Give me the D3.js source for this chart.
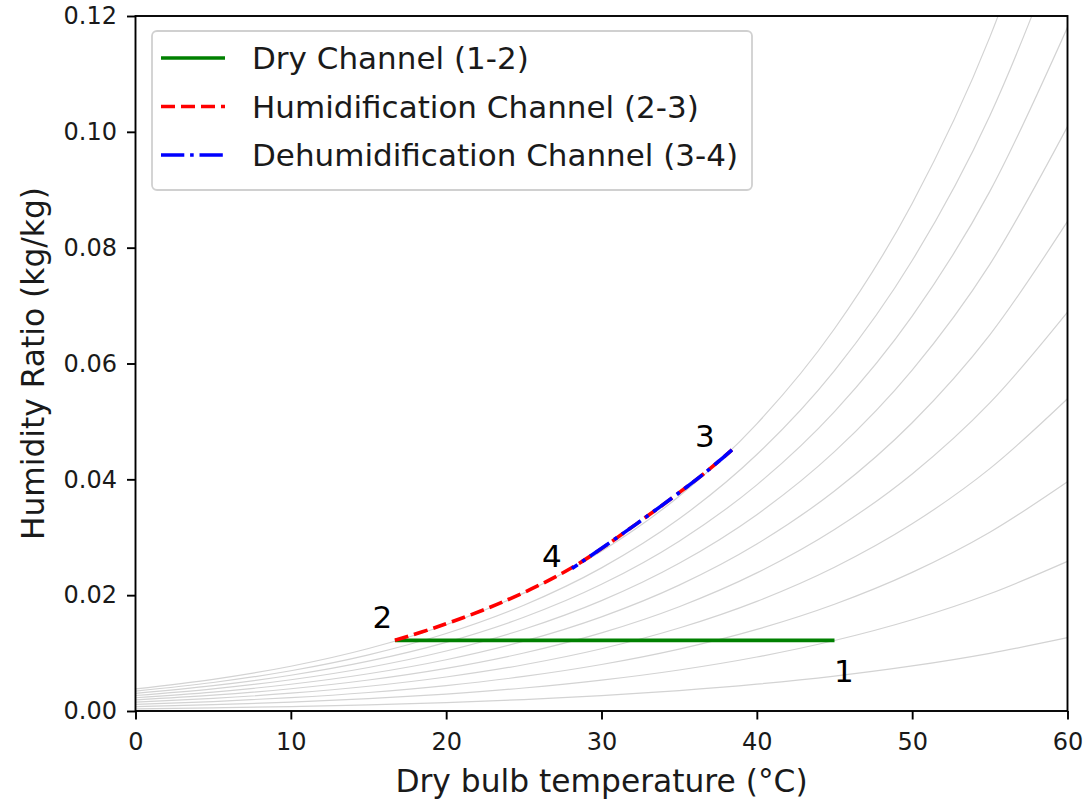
<!DOCTYPE html>
<html>
<head>
<meta charset="utf-8">
<script src="https://d3js.org/d3.v7.min.js"></script>
<style>
  body { margin: 0; background: #fff; }
  svg { display: block; font-family: "DejaVu Sans", sans-serif; }
</style>
</head>
<body>
<div id="chart"></div>
<script>
// saturation vapour pressure table (kPa), used for the grey RH curves
const tableTemps = [0, 5, 10, 15, 20, 25, 30, 35, 40, 45, 50, 55, 60];
const satPressure = [0.6113, 0.8721, 1.2276, 1.7051, 2.339, 3.169, 4.246, 5.628, 7.384, 9.593, 12.349, 15.758, 19.940];
const rhLevels = [0.1, 0.2, 0.3, 0.4, 0.5, 0.6, 0.7, 0.8, 0.9, 1.0];
const airPressure = 100; // kPa

// process channels
const dryTemps = [45.0, 16.7];
const dryRatios = [0.0122, 0.0122];
const humTemps = [16.7, 19.4, 23.7, 28.0, 32.3, 36.6, 38.4];
const humRatios = [0.0122, 0.0145, 0.0189, 0.0246, 0.0324, 0.0410, 0.0451];
const dehumTemps = [38.4, 36.6, 32.3, 28.1];
const dehumRatios = [0.0451, 0.0410, 0.0324, 0.0246];

// state point labels
const pointNames = ["1", "2", "3", "4"];
const pointTemps = [45.0, 16.7, 38.4, 28.1];
const pointRatios = [0.0122, 0.0122, 0.0451, 0.0246];

const xTicks = [0, 10, 20, 30, 40, 50, 60];
const yTicks = [0, 0.02, 0.04, 0.06, 0.08, 0.10, 0.12];
const legendLabels = ["Dry Channel (1-2)", "Humidification Channel (2-3)", "Dehumidification Channel (3-4)"];

// chart size
const width = 1088;
const height = 803;
const margin = {top: 16, right: 20.5, bottom: 92, left: 135.5};
const innerW = width - margin.left - margin.right;
const innerH = height - margin.top - margin.bottom;

const xScale = d3.scaleLinear().domain([0, 60]).range([0, innerW]);
const yScale = d3.scaleLinear().domain([0, 0.12]).range([innerH, 0]);

const svg = d3.select("#chart").append("svg")
    .attr("width", width)
    .attr("height", height);

svg.append("defs").append("clipPath")
    .attr("id", "plot-clip")
  .append("rect")
    .attr("width", innerW)
    .attr("height", innerH);

const chartArea = svg.append("g")
    .attr("transform", "translate(" + margin.left + "," + margin.top + ")");

// humidity ratio for a given relative humidity and saturation pressure
function humidityRatio(phi, ps) {
    return 0.622 * phi * ps / (airPressure - phi * ps);
}

const curveLine = d3.line()
    .x(function(d){ return xScale(d[0]); })
    .y(function(d){ return yScale(d[1]); })
    .curve(d3.curveMonotoneX);

const pathLine = d3.line()
    .x(function(d){ return xScale(d[0]); })
    .y(function(d){ return yScale(d[1]); })
    .curve(d3.curveCatmullRom);

const plot = chartArea.append("g").attr("clip-path", "url(#plot-clip)");

// grey relative humidity curves
plot.selectAll(".rh").data(rhLevels).enter()
    .append("path")
        .attr("class", "rh")
        .attr("d", function(phi){
            return curveLine(tableTemps.map(function(t, i){ return [t, humidityRatio(phi, satPressure[i])]; }));
        })
        .attr("fill", "none")
        .attr("stroke", "#d3d3d3")
        .attr("stroke-width", 1.2);

// process lines
const zip = function(a, b){ return a.map(function(v, i){ return [v, b[i]]; }); };

plot.append("path")
    .attr("d", pathLine(zip(dryTemps, dryRatios)))
    .attr("fill", "none")
    .attr("stroke", "green")
    .attr("stroke-width", 3.6);

plot.append("path")
    .attr("d", pathLine(zip(humTemps, humRatios)))
    .attr("fill", "none")
    .attr("stroke", "red")
    .attr("stroke-width", 3.6)
    .attr("stroke-dasharray", "14,6");

plot.append("path")
    .attr("d", pathLine(zip(dehumTemps, dehumRatios)))
    .attr("fill", "none")
    .attr("stroke", "blue")
    .attr("stroke-width", 3.6)
    .attr("stroke-dasharray", "23.3,5.8,3.6,5.8");

// point labels, offsets in px from the state point
const labelOffsets = [[-0.5, 42], [-22.5, -12], [-37, -3], [-30, -2]];
chartArea.selectAll(".pt-label").data(pointNames).enter()
    .append("text")
        .attr("class", "pt-label")
        .attr("x", function(d, i){ return xScale(pointTemps[i]) + labelOffsets[i][0]; })
        .attr("y", function(d, i){ return yScale(pointRatios[i]) + labelOffsets[i][1]; })
        .attr("font-size", "31px")
        .attr("fill", "#000")
        .text(function(d){ return d; });

// axes
const xAxis = d3.axisBottom(xScale).tickValues(xTicks).tickSize(8.5).tickSizeOuter(0).tickPadding(13);
const yAxis = d3.axisLeft(yScale).tickValues(yTicks).tickSize(8.5).tickSizeOuter(0).tickPadding(10)
    .tickFormat(d3.format(".2f"));

const gx = chartArea.append("g")
    .attr("transform", "translate(0," + innerH + ")")
    .call(xAxis);
const gy = chartArea.append("g").call(yAxis);

[gx, gy].forEach(function(g){
    g.select(".domain").remove();
    g.selectAll(".tick line").attr("stroke", "#000").attr("stroke-width", 1.9);
    g.selectAll(".tick text")
        .attr("fill", "#1a1a1a")
        .attr("font-size", "24px")
        .attr("font-family", "DejaVu Sans");
});

// frame
chartArea.append("rect")
    .attr("width", innerW)
    .attr("height", innerH)
    .attr("fill", "none")
    .attr("stroke", "#000")
    .attr("stroke-width", 1.9);

// axis labels
svg.append("text")
    .attr("x", margin.left + innerW / 2)
    .attr("y", 792)
    .attr("text-anchor", "middle")
    .attr("font-size", "31.3px")
    .attr("fill", "#1a1a1a")
    .text("Dry bulb temperature (°C)");

svg.append("text")
    .attr("transform", "translate(44," + (margin.top + innerH / 2) + ") rotate(-90)")
    .attr("text-anchor", "middle")
    .attr("font-size", "31.3px")
    .attr("fill", "#1a1a1a")
    .text("Humidity Ratio (kg/kg)");

// legend
const legend = svg.append("g").attr("transform", "translate(152,31)");
legend.append("rect")
    .attr("width", 600)
    .attr("height", 159)
    .attr("rx", 5)
    .attr("fill", "#fff")
    .attr("fill-opacity", 0.8)
    .attr("stroke", "#d0d0d0")
    .attr("stroke-width", 1.8);

const legendStyles = [
    {color: "green", dash: null},
    {color: "red", dash: "14,6"},
    {color: "blue", dash: "23.3,5.8,3.6,5.8"}
];

legendLabels.forEach(function(label, i){
    const row = legend.append("g").attr("transform", "translate(0," + (27 + i * 48.5) + ")");
    row.append("line")
        .attr("x1", 9)
        .attr("x2", 73)
        .attr("stroke", legendStyles[i].color)
        .attr("stroke-width", 3.6)
        .attr("stroke-dasharray", legendStyles[i].dash);
    row.append("text")
        .attr("x", 100)
        .attr("dy", "0.37em")
        .attr("font-size", "31px")
        .attr("fill", "#1a1a1a")
        .text(label);
});
</script>
</body>
</html>
